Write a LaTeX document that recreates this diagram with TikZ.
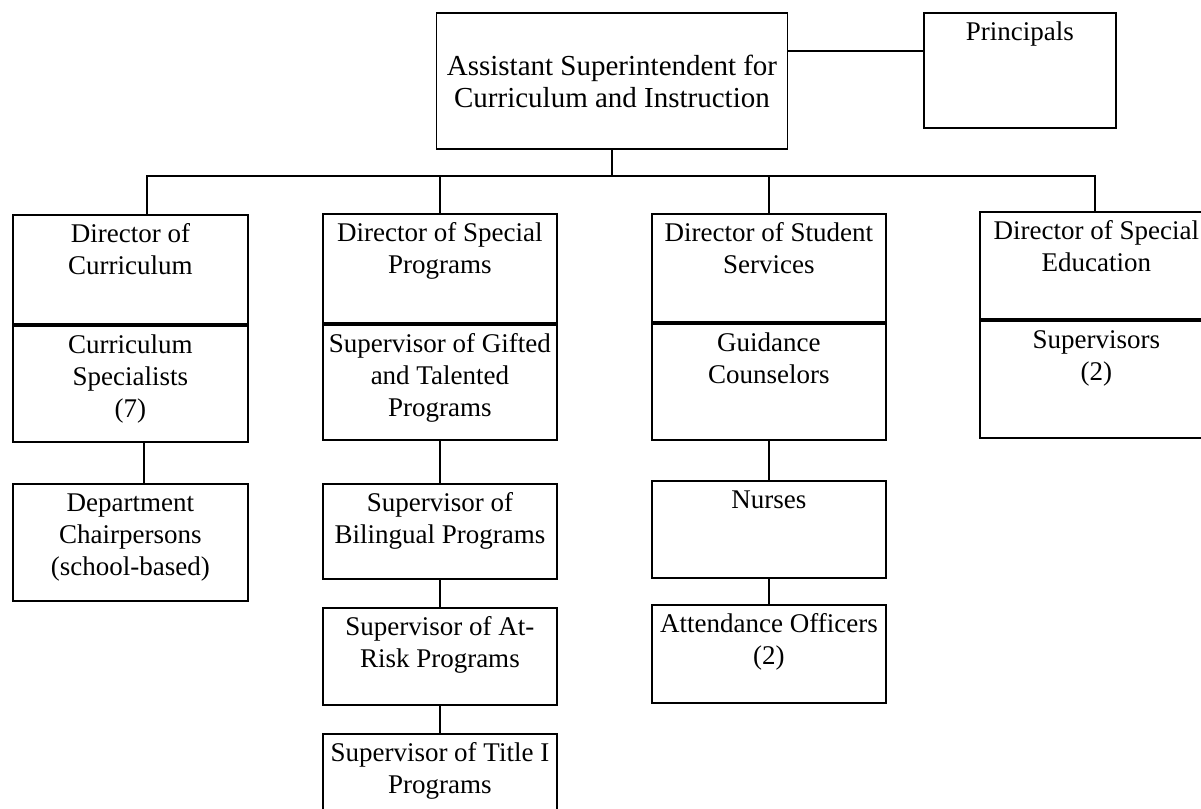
\documentclass[tikz,border=0pt]{standalone}
\usepackage{fontspec}
\setmainfont{Liberation Serif}
\usetikzlibrary{positioning}

\newcommand{\orgtext}[3]{%
  \begin{minipage}[t][#2pt][t]{#1pt}\centering
    \rule{0pt}{28pt}#3
  \end{minipage}}

\tikzset{cell/.style = {draw, line width=1.8pt, inner sep=0pt, anchor=north west,
                        font=\fontsize{27}{32}\selectfont},
         link/.style = {line width=1.8pt}}

\begin{document}
\begin{tikzpicture}[x=1pt, y=-1pt]
    \useasboundingbox (0, 0) rectangle (1201, 808);
    \clip (0, 0) rectangle (1201, 808);

    \node [draw, line width=1.8pt, inner sep=0pt, minimum width=351pt, minimum height=136pt,
           align=center, font=\fontsize{29}{32}\selectfont]
          (top) at (612, 81) {Assistant Superintendent for\\Curriculum and Instruction};
    \node [cell] (prin) at (923, 12) {\orgtext{192}{115}{Principals}};

    % directors and their lower halves
    \node [cell] (dcur) at (12, 214) {\orgtext{235}{109}{Director of\\Curriculum}};
    \node [cell] (cspec) at (dcur.south west) {\orgtext{235}{116}{Curriculum\\Specialists\\(7)}};
    \node [cell] (dsp) at (322, 213) {\orgtext{234}{109}{Director of Special\\Programs}};
    \node [cell] (gift) at (dsp.south west) {\orgtext{234}{115}{Supervisor of Gifted\\and Talented\\Programs}};
    \node [cell] (dss) at (651, 213) {\orgtext{234}{108}{Director of Student\\Services}};
    \node [cell] (guid) at (dss.south west) {\orgtext{234}{116}{Guidance\\Counselors}};
    \node [cell] (dse) at (979, 211) {\orgtext{233}{107}{Director of Special\\Education}};
    \node [cell] (sups) at (dse.south west) {\orgtext{233}{117}{Supervisors\\(2)}};

    \node [cell] (dept) at (12, 483) {\orgtext{235}{117}{Department\\Chairpersons\\(school-based)}};

    \node [cell] (bil) at (322, 483) {\orgtext{234}{95}{Supervisor of\\Bilingual Programs}};
    \node [cell] (risk) at (322, 607) {\orgtext{234}{97}{Supervisor of At-\\Risk Programs}};
    \node [cell] (title) at (322, 733) {\orgtext{234}{97}{Supervisor of Title I\\Programs}};

    \node [cell] (nurse) at (651, 480) {\orgtext{234}{97}{Nurses}};
    \node [cell] (att) at (651, 604) {\orgtext{234}{98}{Attendance Officers\\(2)}};

    % bus
    \coordinate (busL) at (147, 176);
    \coordinate (busR) at (1095, 176);
    \draw [link] (busL |- dcur.north) -- (busL) -- (busR) -- (busR |- dse.north);
    \draw [link] (top.south) -- (top.south |- busL);
    \draw [link] (dsp.north) -- (dsp.north |- busL);
    \draw [link] (dss.north) -- (dss.north |- busL);
    \draw [link] ([yshift=30pt]top.east) -- ([yshift=30pt]top.east -| prin.west);

    \draw [link] ([xshift=13.5pt]cspec.south) -- ([xshift=13.5pt]dept.north);
    \draw [link] (gift.south) -- (bil.north);
    \draw [link] (bil.south) -- (risk.north);
    \draw [link] (risk.south) -- (title.north);
    \draw [link] (guid.south) -- (nurse.north);
    \draw [link] (nurse.south) -- (att.north);
\end{tikzpicture}
\end{document}
